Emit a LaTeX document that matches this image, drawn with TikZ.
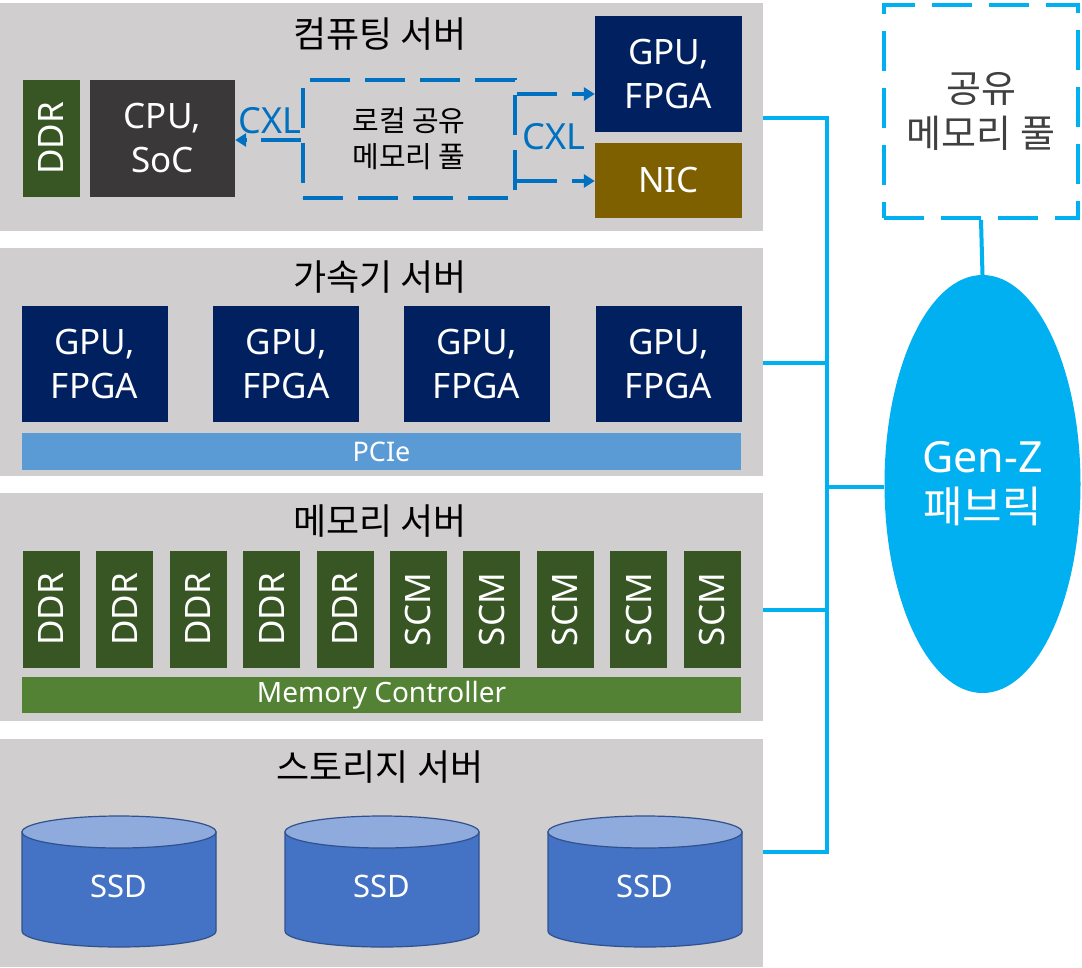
\documentclass[tikz,border=0pt]{standalone}
\usepackage{fontspec}
\setmainfont{Noto Sans CJK KR}
\newfontfamily\latinfont{Noto Sans}
\usetikzlibrary{arrows.meta,shapes.geometric}
\definecolor{panelgray}{HTML}{D0CECE}
\definecolor{ddrgreen}{HTML}{375623}
\definecolor{cpugray}{HTML}{3A3838}
\definecolor{navybox}{HTML}{002060}
\definecolor{nicbrown}{HTML}{7F6000}
\definecolor{pciblue}{HTML}{5B9BD5}
\definecolor{mcgreen}{HTML}{548235}
\definecolor{ssdbody}{HTML}{4472C4}
\definecolor{ssdtop}{HTML}{8FAADC}
\definecolor{ssdedge}{HTML}{2F528F}
\definecolor{cxlblue}{HTML}{0070C0}
\definecolor{genzcyan}{HTML}{00B0F0}
\definecolor{pooltext}{HTML}{404040}
\newcommand{\fs}[2]{\fontsize{#1}{#2}\selectfont}
\tikzset{
  panel/.style={fill=panelgray, draw=none, inner sep=0, minimum width=763pt, minimum height=228pt, anchor=north west},
  title/.style={text=black, font=\fs{36}{44}, inner sep=0},
  whitebox/.style={draw=none, text=white, align=center, inner sep=0, font=\latinfont\fs{35}{44}},
  gpubox/.style={whitebox, fill=navybox, minimum width=146pt, minimum height=116pt},
  membox/.style={whitebox, fill=ddrgreen, rotate=90, minimum width=117pt, minimum height=57pt, font=\latinfont\fs{35}{40}},
  barbox/.style={whitebox, minimum width=719pt, minimum height=37pt},
  cxlline/.style={draw=cxlblue, line width=4pt, dash pattern=on 40pt off 15pt},
  cxlarrow/.style={cxlline, -{Triangle[length=11pt,width=13pt]}},
  cxltext/.style={text=cxlblue, font=\latinfont\fs{36}{40}, inner sep=0},
  genzline/.style={draw=genzcyan, line width=4pt},
  ssdlabel/.style={text=white, font=\latinfont\fs{31}{36}, inner sep=0}
}
\begin{document}
\begin{tikzpicture}[x=1pt,y=-1pt]
\useasboundingbox (0,0) rectangle (1082,967);
% panels
\node[panel] (p1) at (0,3) {};
\node[panel] (p2) at (0,248) {};
\node[panel] (p3) at (0,493) {};
\node[panel] (p4) at (0,739) {};
% panel 1
\node[title] (t1) at (380,34) {컴퓨팅 서버};
\node[membox] (ddr0) at (51.5,138.5) {DDR};
\node[whitebox, fill=cpugray, minimum width=145pt, minimum height=117pt] (cpu) at (162.5,138.5) {CPU,\\SoC};
\node[draw=cxlblue, line width=4pt, dash pattern=on 40pt off 15pt, minimum width=212pt, minimum height=118pt, inner sep=0, align=center, font=\fs{29}{36}, text=black] (lpool) at (409,139) {로컬 공유\\메모리 풀};
\node[gpubox, minimum width=147pt] (gpu0) at (668.5,74) {GPU,\\FPGA};
\node[whitebox, fill=nicbrown, minimum width=147pt, minimum height=75pt] (nic) at (668.5,180.5) {NIC};
\draw[cxlarrow] (lpool.west |- 0,140) -- (cpu.east |- 0,140);
\draw[cxlarrow] (lpool.east |- 0,94) -- (gpu0.west |- 0,94);
\draw[cxlarrow] (lpool.east |- 0,181) -- (nic.west |- 0,181);
\node[cxltext] (cxl1) at (270,121) {CXL};
\node[cxltext] (cxl2) at (554,137) {CXL};
% panel 2
\node[title] (t2) at (380,277) {가속기 서버};
\foreach \x/\n in {94.5/1,286/2,476.5/3,668.5/4}
  \node[gpubox] (gpu\n) at (\x,364) {GPU,\\FPGA};
\node[barbox, fill=pciblue, font=\latinfont\fs{27}{30}] (pcie) at (381.5,451.5) {PCIe};
% panel 3
\node[title] (t3) at (380,521) {메모리 서버};
\foreach \i/\lab in {0/DDR,1/DDR,2/DDR,3/DDR,4/DDR,5/SCM,6/SCM,7/SCM,8/SCM,9/SCM}
  \node[membox] (m\i) at ({51.5+73.4*\i},609.5) {\lab};
\node[barbox, fill=mcgreen, minimum height=36pt, font=\latinfont\fs{28}{32}] (mc) at (381.5,695) {Memory Controller};
% panel 4
\node[title] (t4) at (380,767) {스토리지 서버};
\foreach \cx/\n in {119/1,382/2,645/3}{
  \path[fill=ssdbody, draw=ssdedge, line width=1.2pt] (\cx-97,832) -- (\cx-97,931)
     arc[start angle=180, end angle=0, x radius=97, y radius=16] -- (\cx+97,832) -- cycle;
  \path[fill=ssdtop, draw=ssdedge, line width=1.2pt] (\cx,832) ellipse[x radius=97, y radius=16];
  \node[ssdlabel] (ssd\n) at (\cx,886) {SSD};
}
% Gen-Z fabric
\node[draw=genzcyan, line width=4pt, dash pattern=on 40pt off 17pt, fill=white, minimum width=194pt, minimum height=213pt, inner sep=0, align=center, text=pooltext, font=\fs{38}{45}] (gpool) at (981,111.5) {공유\\메모리 풀};
\node[ellipse, fill=genzcyan, minimum width=196pt, minimum height=418pt, inner sep=0, align=center, text=white, font=\fs{43}{50}] (genz) at (982.5,484) {{\latinfont Gen-Z}\\패브릭};
\draw[genzline] (gpool.south) -- (genz.north);
\coordinate (bus1) at (827,118);
\coordinate (bus4) at (827,852);
\coordinate (busz) at (827,487);
\draw[genzline] (p1.east |- bus1) -- (bus1) -- (bus4) -- (p4.east |- bus4);
\draw[genzline] (p2.east |- 0,363) -- (827,363);
\draw[genzline] (p3.east |- 0,610) -- (827,610);
\draw[genzline] (busz) -- (genz.west |- busz);
\end{tikzpicture}
\end{document}
